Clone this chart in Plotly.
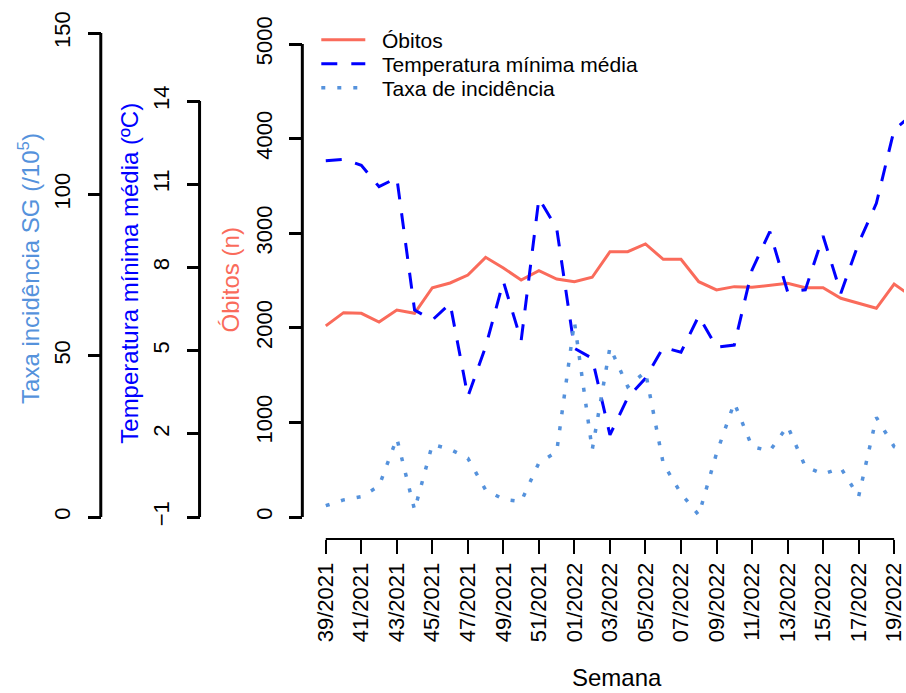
import plotly.graph_objects as go

# ---- data: epidemiological weeks 39/2021 .. 20/2022 ----
semanas = [
    "39/2021", "40/2021", "41/2021", "42/2021", "43/2021", "44/2021", "45/2021",
    "46/2021", "47/2021", "48/2021", "49/2021", "50/2021", "51/2021", "52/2021",
    "01/2022", "02/2022", "03/2022", "04/2022", "05/2022", "06/2022", "07/2022",
    "08/2022", "09/2022", "10/2022", "11/2022", "12/2022", "13/2022", "14/2022",
    "15/2022", "16/2022", "17/2022", "18/2022", "19/2022", "20/2022",
]
obitos = [
    2020, 2160, 2153, 2061, 2188, 2153, 2424, 2474, 2558, 2745, 2632, 2505,
    2604, 2516, 2487, 2534, 2804, 2804, 2886, 2724, 2724, 2487, 2400, 2435,
    2428, 2452, 2470, 2424, 2424, 2312, 2259, 2206, 2463, 2330,
]
temp_min = [
    11.85, 11.9, 11.68, 10.91, 11.23, 6.46, 6.10, 6.7, 3.34, 5.14, 7.49, 5.36,
    10.49, 9.41, 5.08, 4.72, 1.96, 3.30, 4.0, 5.12, 4.94, 6.25, 5.12, 5.20,
    7.91, 9.29, 7.13, 7.19, 9.13, 7.07, 8.87, 10.31, 12.96, 13.5,
]
taxa = [
    3.5, 5.3, 6.3, 9.6, 24.4, 2.2, 22.5, 21.0, 18.2, 8.4, 5.5, 4.8,
    16.8, 20.2, 60.5, 20.8, 52.6, 40.4, 45.0, 16.6, 7.3, 0.6, 19.7, 35.4,
    21.8, 20.5, 28.2, 15.6, 13.3, 15.2, 6.3, 30.9, 21.8, 19.0,
]

ticks_obitos = [0, 1000, 2000, 3000, 4000, 5000]
ticks_temp = [-1, 2, 5, 8, 11, 14]
ticks_taxa = [0, 50, 100, 150]
ticks_semana = semanas[0:33:2]

# ---- layout geometry (pixels) ----
W, H = 906, 693
FONT = "Liberation Sans, Arial, sans-serif"
COL_OBITOS = "#FA6B5B"
COL_TEMP = "#0000FF"
COL_TAXA = "#5592DC"

PLOT_TOP, PLOT_BOTTOM = 10, 539          # plot area in px
X_LEFT, X_PER_WEEK, X_FIRST = 303, 17.8, 326.5
Y_ZERO = 517                              # px of lowest tick on each y axis


def fx(px):
    return px / W


def fy(py):
    return (H - py) / H


def y_range(v_low, v_high, py_low, py_high):
    """Axis range so that v_low sits at py_low and v_high at py_high."""
    per_px = (v_high - v_low) / (py_low - py_high)
    return [v_low - (PLOT_BOTTOM - py_low) * per_px,
            v_low + (py_low - PLOT_TOP) * per_px]


x_range = [-(X_FIRST - X_LEFT) / X_PER_WEEK, (W - X_FIRST) / X_PER_WEEK]

# legend labels get a small non-breaking gap after the line sample
GAP = "\u00a0\u00a0"

fig = go.Figure()
fig.add_trace(go.Scatter(
    x=semanas, y=obitos, name=GAP + "Óbitos", mode="lines", yaxis="y",
    line=dict(color=COL_OBITOS, width=3), legend="legend",
))
fig.add_trace(go.Scatter(
    x=semanas, y=temp_min, name=GAP + "Temperatura mínima média",
    mode="lines", yaxis="y2",
    line=dict(color=COL_TEMP, width=3, dash="16px,14px"), legend="legend2",
))
fig.add_trace(go.Scatter(
    x=semanas, y=taxa, name=GAP + "Taxa de incidência", mode="lines",
    yaxis="y3", line=dict(color=COL_TAXA, width=3.5, dash="4px,12px"),
    legend="legend3",
))

tickfont = dict(family=FONT, size=22, color="black")
common_y = dict(
    domain=[fy(PLOT_BOTTOM), fy(PLOT_TOP)], showgrid=False, zeroline=False,
    showline=False, ticks="outside", ticklen=13, tickwidth=3,
    tickcolor="black", tickangle=-90, tickfont=tickfont, anchor="free",
    side="left", ticklabelstandoff=9,
)

fig.update_layout(
    width=W, height=H, margin=dict(l=0, r=0, t=0, b=0),
    paper_bgcolor="white", plot_bgcolor="white", showlegend=True,
    font=dict(family=FONT, color="black"),
    xaxis=dict(
        domain=[fx(X_LEFT), 1], range=x_range, type="category",
        tickvals=ticks_semana, ticktext=ticks_semana, tickangle=-90,
        ticks="outside", ticklen=14, tickwidth=2, tickcolor="black",
        tickfont=dict(family=FONT, size=22, color="black"),
        showgrid=False, zeroline=False, showline=False, anchor="y",
    ),
    yaxis=dict(common_y, position=fx(303),
               range=y_range(0, 5000, Y_ZERO, 44), tickvals=ticks_obitos),
    yaxis2=dict(common_y, position=fx(200), overlaying="y",
                range=y_range(-1, 14, Y_ZERO, 101), tickvals=ticks_temp),
    yaxis3=dict(common_y, position=fx(101), overlaying="y",
                range=y_range(0, 150, Y_ZERO, 33), tickvals=ticks_taxa),
)

# one legend per series, stacked at the top-left of the plot area
legend_style = dict(
    x=fx(317), xanchor="left", yanchor="middle", bgcolor="rgba(0,0,0,0)",
    font=dict(family=FONT, size=21, color="black"), itemwidth=44,
)
fig.update_layout(
    legend=dict(legend_style, y=fy(40)),
    legend2=dict(legend_style, y=fy(64)),
    legend3=dict(legend_style, y=fy(88)),
)

# axis lines spanning first to last tick
line = dict(color="black", width=3)
fig.add_shape(type="line", xref="paper", yref="y", x0=fx(303), x1=fx(303),
              y0=ticks_obitos[0], y1=ticks_obitos[-1], line=line)
fig.add_shape(type="line", xref="paper", yref="y2", x0=fx(200), x1=fx(200),
              y0=ticks_temp[0], y1=ticks_temp[-1], line=line)
fig.add_shape(type="line", xref="paper", yref="y3", x0=fx(101), x1=fx(101),
              y0=ticks_taxa[0], y1=ticks_taxa[-1], line=line)
fig.add_shape(type="line", xref="x", yref="paper", x0=ticks_semana[0],
              x1=ticks_semana[-1], y0=fy(PLOT_BOTTOM), y1=fy(PLOT_BOTTOM),
              line=dict(color="black", width=2))

# axis titles
title_font = 24
centered = dict(xref="paper", yref="paper", xanchor="center",
                yanchor="middle", showarrow=False)
fig.add_annotation(centered, text="Taxa incidência SG (/10<sup>5</sup>)",
                   x=fx(29), y=fy(268), textangle=-90,
                   font=dict(family=FONT, size=title_font, color=COL_TAXA))
fig.add_annotation(centered, text="Temperatura mínima média (ºC)",
                   x=fx(129), y=fy(273), textangle=-90,
                   font=dict(family=FONT, size=title_font, color=COL_TEMP))
fig.add_annotation(centered, text="Óbitos (n)", x=fx(231), y=fy(280),
                   textangle=-90,
                   font=dict(family=FONT, size=title_font, color=COL_OBITOS))
fig.add_annotation(centered, text="Semana", x=fx(618), y=fy(677),
                   font=dict(family=FONT, size=title_font, color="black"))

fig.write_html("out.html")
